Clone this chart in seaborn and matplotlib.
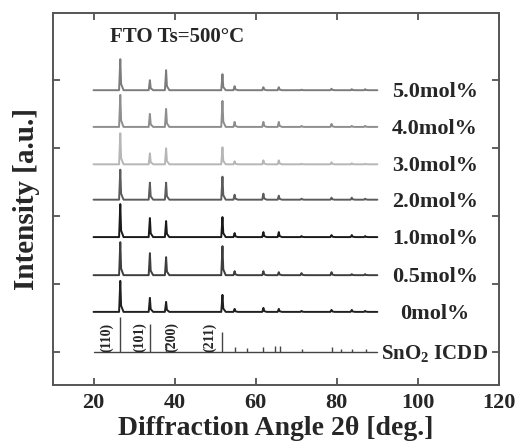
import numpy as np
import pandas as pd
import seaborn as sns
import matplotlib.pyplot as plt

# peak positions (2theta) and heights (pixels, 68 px = 1 tick)
peak_pos = [26.6, 33.9, 37.9, 51.8, 54.8, 61.9, 65.7, 71.3, 78.7, 83.7, 87.0]
samples = ["5.0mol%", "4.0mol%", "3.0mol%", "2.0mol%", "1.0mol%", "0.5mol%", "0mol%"]
h_50 = [31, 10, 20, 16, 4, 3, 3, 0.5, 1.5, 1, 1]
h_40 = [32, 13, 18, 26, 5, 5, 5, 1, 3, 1, 1]
h_30 = [31, 11, 16, 17, 3, 4, 4, 0.5, 2, 1, 0.5]
h_20 = [30, 17, 17, 23, 5, 6, 4, 1, 2, 2, 1]
h_10 = [33, 19, 16, 20, 4, 5, 5, 1, 2, 2, 1]
h_05 = [33, 22, 18, 29, 4, 4, 3, 2, 3, 1, 1]
h_00 = [31, 14, 10, 17, 3, 4, 3, 1, 2, 2, 1]
heights = [h_50, h_40, h_30, h_20, h_10, h_05, h_00]
offsets = [4.85, 4.31, 3.76, 3.24, 2.69, 2.13, 1.59]
colors = ["#7c7c7c", "#8e8e8e", "#b6b6b6", "#5c5c5c", "#1a1a1a", "#3e3e3e", "#202020"]

# SnO2 ICDD reference lines
icdd_pos = [26.6, 33.9, 37.9, 51.8, 54.8, 57.8, 61.9, 64.7, 65.9, 71.3, 78.7, 81.1, 83.7, 87.2]
icdd_h = [35, 28, 9, 20, 5, 4, 5, 6, 6, 3, 5, 3, 3, 3]
icdd_base = 1.0
hkl = ["(110)", "(101)", "(200)", "(211)"]
hkl_x = [23.2, 31.4, 39.3, 48.6]

PX = 68.0

rows = []
for name, hs, off in zip(samples, heights, offsets):
    pts = [(20.0, 0.0)]
    for p, h in zip(peak_pos, hs):
        pts += [(p - 0.3, 0.0), (p, h), (p + 0.2, 0.2 * h), (p + 0.8, 0.0)]
    pts.append((90.0, 0.0))
    for x, y in pts:
        rows.append({"angle": x, "I": off + y / PX, "sample": name})
df = pd.DataFrame(rows)

sns.set_theme(style="ticks")
plt.rcParams["font.family"] = ["Liberation Serif", "DejaVu Serif"]
plt.rcParams["font.weight"] = "bold"
plt.rcParams["mathtext.fontset"] = "custom"
plt.rcParams["mathtext.rm"] = "Liberation Serif"
plt.rcParams["mathtext.bf"] = "Liberation Serif:bold"

fig = plt.figure(figsize=(5.18, 4.44), dpi=100)
ax = fig.add_axes([0.1023, 0.1329, 0.861, 0.8378])

sns.lineplot(data=df, x="angle", y="I", hue="sample", palette=dict(zip(samples, colors)),
             sort=False, estimator=None, legend=False, linewidth=1.4, ax=ax)

ax.plot([20, 90], [icdd_base, icdd_base], color="#444444", lw=1.0)
ax.vlines(icdd_pos, icdd_base, icdd_base + np.array(icdd_h) / PX, color="#444444", lw=1.0)

for lab, x in zip(hkl, hkl_x):
    ax.text(x, 1.22, lab, rotation=90, ha="center", va="center", fontsize=10, fontweight="bold")

for name, off in zip(samples, offsets):
    ax.text(104.2, off - 0.03, name, ha="center", va="center", fontsize=16, fontweight="bold")
ax.text(104.2, icdd_base - 0.03, "SnO$_\\mathbf{2}$ ICDD", ha="center", va="center",
        fontsize=15, fontweight="bold")

ax.text(24, 5.63, "FTO Ts=500°C", ha="left", va="center", fontsize=15, fontweight="bold")

ax.set_xlim(10, 120)
ax.set_ylim(0.515, 5.985)
ax.set_xticks([20, 40, 60, 80, 100, 120])
ax.set_yticks([1, 2, 3, 4, 5])
ax.set_yticklabels([])
ax.tick_params(direction="in", length=5, width=1.2, top=True, right=True, color="#444444",
               labelsize=16, pad=6)
for s in ax.spines.values():
    s.set_linewidth(1.4)
    s.set_color("#555555")
for t in ax.get_xticklabels():
    t.set_fontweight("bold")

ax.set_xlabel("Diffraction Angle 2θ [deg.]", fontsize=20, fontweight="bold", labelpad=2)
ax.set_ylabel("Intensity [a.u.]", fontsize=21, fontweight="bold", labelpad=3)

fig.savefig("out.png", dpi=100)
